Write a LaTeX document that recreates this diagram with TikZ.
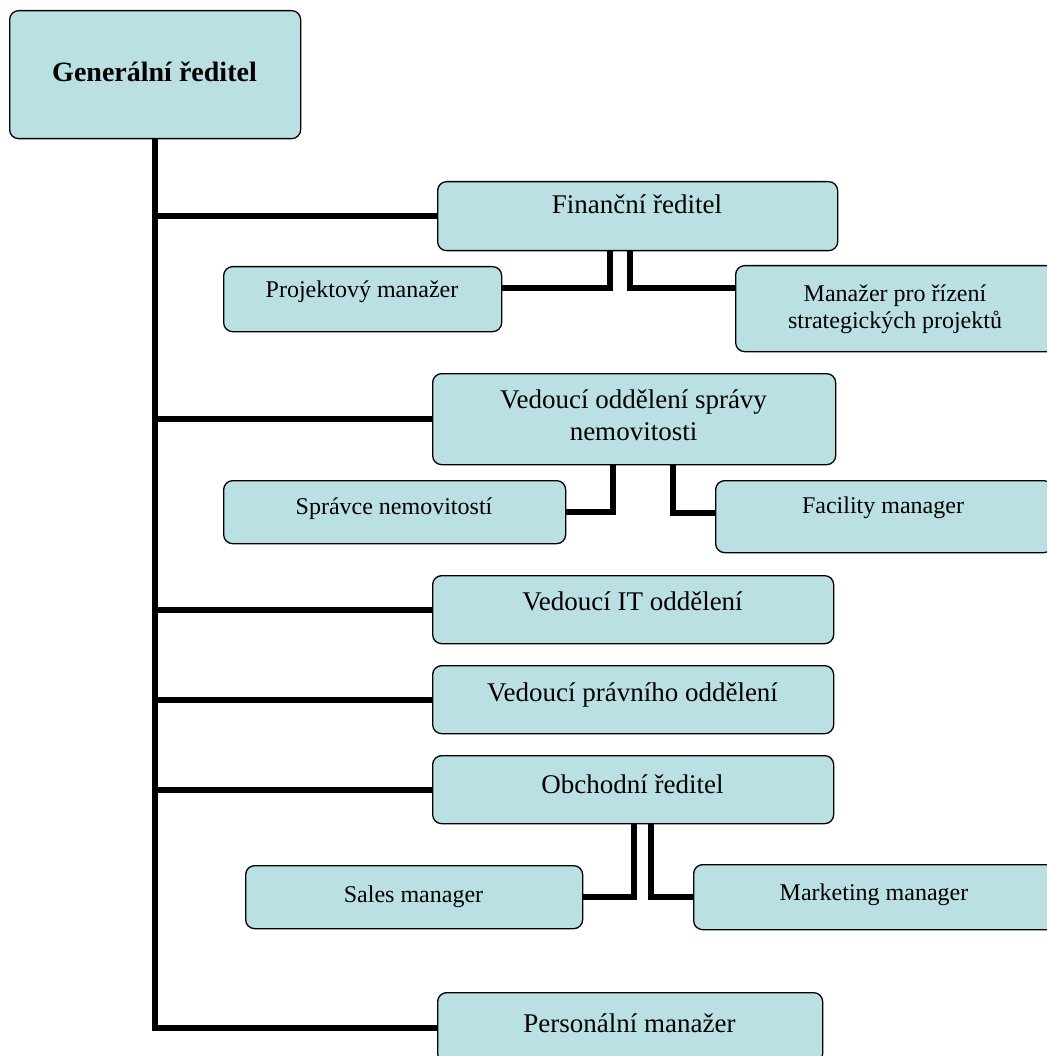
\documentclass[tikz,border=0pt]{standalone}
\usepackage{fontspec}
\setmainfont{Liberation Serif}
\usetikzlibrary{backgrounds}
\definecolor{boxfill}{HTML}{BBE0E3}
\tikzset{
  box/.style={draw=black, line width=1.3pt, fill=boxfill, rounded corners=9pt,
    anchor=north west, inner sep=0pt},
  conn/.style={draw=black, line width=6pt, line join=miter},
  bigtxt/.style={anchor=base, inner sep=0pt, align=center, font=\fontsize{27}{32}\selectfont},
  smalltxt/.style={anchor=base, inner sep=0pt, align=center, font=\fontsize{24}{27}\selectfont},
  boldtxt/.style={anchor=base, inner sep=0pt, font=\fontsize{28}{32}\selectfont\bfseries}
}
\newcommand{\mkbox}[5]{%
  \node[box, minimum width=#4pt-#2pt, minimum height=#5pt-#3pt] (#1) at (#2,#3) {};}
\begin{document}
\begin{tikzpicture}[x=1pt,y=-1pt]
\useasboundingbox (0,0) rectangle (1046,1056);
% boxes
\mkbox{gen}{9}{10}{300}{138}
\mkbox{fin}{437}{181}{837}{250}
\mkbox{pm}{223}{266}{501}{331}
\mkbox{mpr}{735}{265}{1055}{351}
\mkbox{ved}{432}{373}{835}{464}
\mkbox{spr}{223}{480}{565}{543}
\mkbox{fac}{715}{480}{1052}{552}
\mkbox{it}{432}{575}{833}{643}
\mkbox{pra}{432}{665}{833}{733}
\mkbox{obc}{432}{755}{833}{823}
\mkbox{sal}{245}{865}{582}{928}
\mkbox{mkt}{693}{864}{1055}{929}
\mkbox{per}{437}{992}{822}{1062}
% texts (multi-line nodes: base = baseline of the last line)
\node[boldtxt] (tgen) at (154.5,82) {Generální ředitel};
\node[bigtxt] (tfin) at (637,214) {Finanční ředitel};
\node[smalltxt] (tpm) at (362,298) {Projektový manažer};
\node[smalltxt] (tmpr) at (895,328) {Manažer pro řízení\\strategických projektů};
\node[bigtxt] (tved) at (633.5,440) {Vedoucí oddělení správy\\nemovitosti};
\node[smalltxt] (tspr) at (394,514) {Správce nemovitostí};
\node[smalltxt] (tfac) at (883,513) {Facility manager};
\node[bigtxt] (tit) at (632.5,610) {Vedoucí IT oddělení};
\node[bigtxt] (tpra) at (632.5,701) {Vedoucí právního oddělení};
\node[bigtxt] (tobc) at (632.5,793) {Obchodní ředitel};
\node[smalltxt] (tsal) at (413.5,902) {Sales manager};
\node[smalltxt] (tmkt) at (874,900) {Marketing manager};
\node[bigtxt] (tper) at (629.5,1032) {Personální manažer};
% connectors
\begin{scope}[on background layer]
\fill[white] (0,0) rectangle (1046,1056);
\draw[conn] (gen.south) -- (gen.south |- per.west) -- (per.west);
\draw[conn] (gen.south |- fin.west) -- (fin.west);
\draw[conn] (gen.south |- ved.west) -- (ved.west);
\draw[conn] (gen.south |- it.west) -- (it.west);
\draw[conn] (gen.south |- pra.west) -- (pra.west);
\draw[conn] (gen.south |- obc.west) -- (obc.west);
\draw[conn] ([xshift=-28pt]fin.south) |- ([yshift=11.5pt]pm.east);
\draw[conn] ([xshift=-8pt]fin.south) |- ([yshift=21pt]mpr.west);
\draw[conn] ([xshift=-21.5pt]ved.south) |- (spr.east);
\draw[conn] ([xshift=38.5pt]ved.south) |- ([yshift=4pt]fac.west);
\draw[conn] ([xshift=0.5pt]obc.south) |- (sal.east);
\draw[conn] ([xshift=17.5pt]obc.south) |- (mkt.west);
\end{scope}
\end{tikzpicture}
\end{document}
